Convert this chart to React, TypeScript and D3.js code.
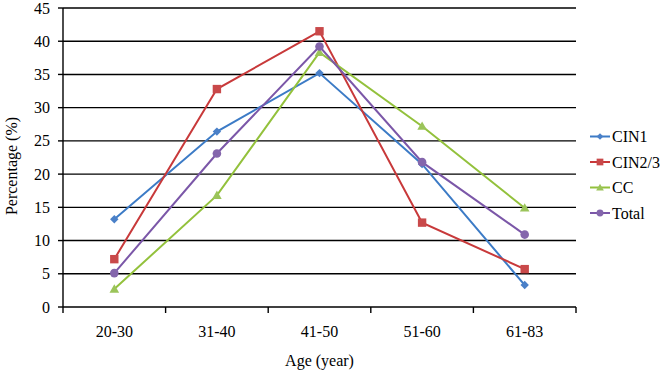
import React, { useEffect } from 'react';
import * as d3 from 'd3';

const ageGroups = ['20-30', '31-40', '41-50', '51-60', '61-83'];
const cin1 = [13.2, 26.4, 35.2, 21.5, 3.3];
const cin23 = [7.2, 32.8, 41.5, 12.7, 5.7];
const cc = [2.7, 16.8, 38.3, 27.2, 14.9];
const total = [5.1, 23.1, 39.2, 21.8, 10.9];
const yTicks = [0, 5, 10, 15, 20, 25, 30, 35, 40, 45];

const seriesList = [
  { name: 'CIN1', values: cin1, color: '#3c7bc6', marker: 'diamond' },
  { name: 'CIN2/3', values: cin23, color: '#c8393a', marker: 'square' },
  { name: 'CC', values: cc, color: '#93c13c', marker: 'triangle' },
  { name: 'Total', values: total, color: '#7b57a8', marker: 'circle' },
];

const fill: Record<string, string> = {
  CIN1: '#4a80c8',
  'CIN2/3': '#c9494a',
  CC: '#9bc45a',
  Total: '#8466ac',
};

const Marker: React.FC<{ kind: string; x: number; y: number; color: string; small?: boolean }> = ({
  kind,
  x,
  y,
  color,
  small,
}) => {
  const s = small ? 0.8 : 1;
  if (kind === 'diamond') {
    const r = 4.2 * s;
    return <path d={`M${x},${y - r}L${x + r},${y}L${x},${y + r}L${x - r},${y}Z`} fill={color} />;
  }
  if (kind === 'square') {
    const r = 4.2 * s;
    return <rect x={x - r} y={y - r} width={2 * r} height={2 * r} fill={color} />;
  }
  if (kind === 'triangle') {
    const r = 4.8 * s;
    return <path d={`M${x},${y - r}L${x + r},${y + r * 0.75}L${x - r},${y + r * 0.75}Z`} fill={color} />;
  }
  return <circle cx={x} cy={y} r={4.3 * s} fill={color} />;
};

export default function App() {
  useEffect(() => {
    document.body.style.margin = '0';
  }, []);

  const width = 667;
  const height = 371;
  const left = 63;
  const right = 576;
  const top = 8;
  const bottom = 307;

  const x = d3.scalePoint<string>().domain(ageGroups).range([left, right]).padding(0.5);
  const y = d3.scaleLinear().domain([0, 45]).range([bottom, top]);
  const step = x.step();
  const line = d3
    .line<number>()
    .x((_, i) => x(ageGroups[i])!)
    .y((d) => y(d));

  const font = '"Liberation Serif", "Times New Roman", serif';
  const tickEdges = d3.range(ageGroups.length + 1).map((i) => left + i * step);

  return (
    <svg width={width} height={height} style={{ display: 'block', background: '#fff' }} fontFamily={font}>
      {yTicks.map((t) => (
        <g key={t}>
          {t > 0 && <line x1={left} x2={right} y1={y(t)} y2={y(t)} stroke="#000" strokeWidth={1.4} />}
          <line x1={left - 5} x2={left} y1={y(t)} y2={y(t)} stroke="#000" strokeWidth={1.4} />
          <text x={left - 13} y={y(t)} dy="0.35em" textAnchor="end" fontSize={16}>
            {t}
          </text>
        </g>
      ))}
      <line x1={left} x2={left} y1={top} y2={bottom} stroke="#000" strokeWidth={1.4} />
      <line x1={left} x2={right} y1={bottom} y2={bottom} stroke="#000" strokeWidth={1.4} />
      {tickEdges.map((e, i) => (
        <line key={i} x1={e} x2={e} y1={bottom} y2={bottom + 6} stroke="#000" strokeWidth={1.4} />
      ))}
      {ageGroups.map((g) => (
        <text key={g} x={x(g)} y={331} dy="0.35em" textAnchor="middle" fontSize={16}>
          {g}
        </text>
      ))}
      <text x={(left + right) / 2} y={360} dy="0.35em" textAnchor="middle" fontSize={16}>
        Age (year)
      </text>
      <text
        transform={`translate(11,${166}) rotate(-90)`}
        textAnchor="middle"
        dy="0.35em"
        fontSize={16}
      >
        Percentage (%)
      </text>

      {seriesList.map((s) => (
        <g key={s.name}>
          <path d={line(s.values)!} fill="none" stroke={s.color} strokeWidth={2} />
          {s.values.map((v, i) => (
            <Marker key={i} kind={s.marker} x={x(ageGroups[i])!} y={y(v)} color={fill[s.name]} />
          ))}
        </g>
      ))}

      {seriesList.map((s, i) => {
        const ly = 136.5 + i * 25.5;
        return (
          <g key={s.name}>
            <line x1={590} x2={610} y1={ly} y2={ly} stroke={s.color} strokeWidth={2} />
            <Marker kind={s.marker} x={600} y={ly} color={fill[s.name]} small />
            <text x={612} y={ly} dy="0.35em" fontSize={16}>
              {s.name}
            </text>
          </g>
        );
      })}
    </svg>
  );
}
